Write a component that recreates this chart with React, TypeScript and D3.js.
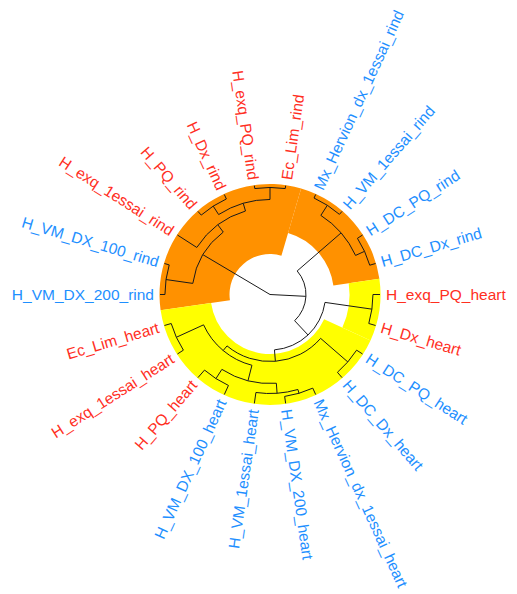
import React, { useMemo } from "react";
import * as d3 from "d3";

// Leaves in dendrogram order (clockwise, starting at 9 o'clock)
const leafNames: string[] = [
  "H_VM_DX_200_rind",
  "H_VM_DX_100_rind",
  "H_exq_1essai_rind",
  "H_PQ_rind",
  "H_Dx_rind",
  "H_exq_PQ_rind",
  "Ec_Lim_rind",
  "Mx_Hervion_dx_1essai_rind",
  "H_VM_1essai_rind",
  "H_DC_PQ_rind",
  "H_DC_Dx_rind",
  "H_exq_PQ_heart",
  "H_Dx_heart",
  "H_DC_PQ_heart",
  "H_DC_Dx_heart",
  "Mx_Hervion_dx_1essai_heart",
  "H_VM_DX_200_heart",
  "H_VM_1essai_heart",
  "H_VM_DX_100_heart",
  "H_PQ_heart",
  "H_exq_1essai_heart",
  "Ec_Lim_heart",
];

// Label family of each leaf (0 = red group, 1 = blue group)
const leafFamily: number[] = [1, 1, 0, 0, 0, 0, 0, 1, 1, 1, 1, 0, 0, 1, 1, 1, 1, 1, 1, 0, 0, 0];

// hclust-style merge table: negative = leaf (-(index+1)), positive = earlier merge step (1-based)
const merges: [number, number, number][] = [
  [-6, -7, 0.027],
  [-8, -9, 0.036],
  [-1, -2, 0.045],
  [-4, -5, 0.045],
  [-10, -11, 0.055],
  [-12, -13, 0.064],
  [-14, -15, 0.064],
  [-16, -17, 0.064],
  [-21, -22, 0.064],
  [-19, -20, 0.091],
  [8, -18, 0.1],
  [4, 1, 0.136],
  [2, 5, 0.145],
  [11, 10, 0.191],
  [-3, 12, 0.209],
  [3, 15, 0.291],
  [14, 9, 0.336],
  [7, 17, 0.391],
  [6, 18, 0.495],
  [13, 19, 0.673],
  [16, 20, 1.0],
];

// Highlighted clusters: first leaf, last leaf, rectangle top height, tissue
const clusterFirst: number[] = [0, 7, 11, 13];
const clusterLast: number[] = [6, 10, 12, 21];
const clusterTop: number[] = [0.632, 0.418, 0.277, 0.459];
const clusterTissue: string[] = ["rind", "rind", "heart", "heart"];

const tissueFill: Record<string, string> = { rind: "#FF9100", heart: "#FFFF00" };
const familyColor = ["#FF2F1F", "#1E8FFF"];

const W = 517;
const H = 594;
const CX = 270;
const CY = 294.5;
const LEAF_R = 110;
const RING_R = 110.5;
const LABEL_R = 116;
const START = 270; // direction of the first leaf, degrees clockwise from north

type TreeNode = { name?: string; index?: number; height: number; children?: TreeNode[] };

function build(id: number): TreeNode {
  if (id < 0) return { name: leafNames[-id - 1], index: -id - 1, height: 0 };
  const [a, b, h] = merges[id - 1];
  return { height: h, children: [build(a), build(b)] };
}

const rad = Math.PI / 180;

export default function App() {
  const { edges, sectors, labels } = useMemo(() => {
    const root = d3.hierarchy<TreeNode>(build(merges.length));
    d3.cluster<TreeNode>().size([360, 1]).separation(() => 1)(root);
    const step = 360 / leafNames.length;
    const rot = START - step / 2;
    const ang = (n: d3.HierarchyNode<TreeNode>) => ((n as any).x as number) + rot;
    const rScale = d3.scaleLinear().domain([root.data.height, 0]).range([0, LEAF_R]);
    const pt = (a: number, r: number): [number, number] => [
      CX + r * Math.sin(a * rad),
      CY - r * Math.cos(a * rad),
    ];

    const path = d3.path();
    root.descendants().forEach((n) => {
      if (!n.children) return;
      const rn = rScale(n.data.height);
      const a0 = ang(n.children[0]);
      const a1 = ang(n.children[n.children.length - 1]);
      if (rn > 0) {
        const [x0, y0] = pt(a0, rn);
        path.moveTo(x0, y0);
        path.arc(CX, CY, rn, (a0 - 90) * rad, (a1 - 90) * rad, false);
      }
      n.children.forEach((c) => {
        const a = ang(c);
        const [x1, y1] = pt(a, rn);
        const [x2, y2] = pt(a, rScale(c.data.height));
        path.moveTo(x1, y1);
        path.lineTo(x2, y2);
      });
    });

    const arcGen = d3.arc<any>();
    const sectors = clusterFirst.map((f, i) => {
      const a0 = rot + f * step;
      const a1 = rot + (clusterLast[i] + 1) * step;
      return {
        d: arcGen({
          innerRadius: rScale(clusterTop[i]),
          outerRadius: RING_R,
          startAngle: a0 * rad,
          endAngle: a1 * rad,
        }) as string,
        fill: tissueFill[clusterTissue[i]],
      };
    });

    const labels = root.leaves().map((l) => {
      const a = ((ang(l) % 360) + 360) % 360;
      const left = a > 180.001;
      return {
        name: l.data.name as string,
        color: familyColor[leafFamily[l.data.index as number]],
        transform: `translate(${CX},${CY}) rotate(${a - 90}) translate(${LABEL_R},0)${left ? " rotate(180)" : ""}`,
        anchor: left ? "end" : "start",
      };
    });

    return { edges: path.toString(), sectors, labels };
  }, []);

  return (
    <svg
      width={W}
      height={H}
      style={{ position: "absolute", left: 0, top: 0, background: "#fff" }}
      fontFamily="'Liberation Sans', Arial, Helvetica, sans-serif"
    >
      <g>
        {sectors.map((s, i) => (
          <path key={i} d={s.d} transform={`translate(${CX},${CY})`} fill={s.fill} />
        ))}
      </g>
      <path d={edges} fill="none" stroke="#1a1a1a" strokeWidth={1} />
      <g fontSize={15.5}>
        {labels.map((l) => (
          <text
            key={l.name}
            transform={l.transform}
            textAnchor={l.anchor}
            dominantBaseline="central"
            fill={l.color}
          >
            {l.name}
          </text>
        ))}
      </g>
    </svg>
  );
}
